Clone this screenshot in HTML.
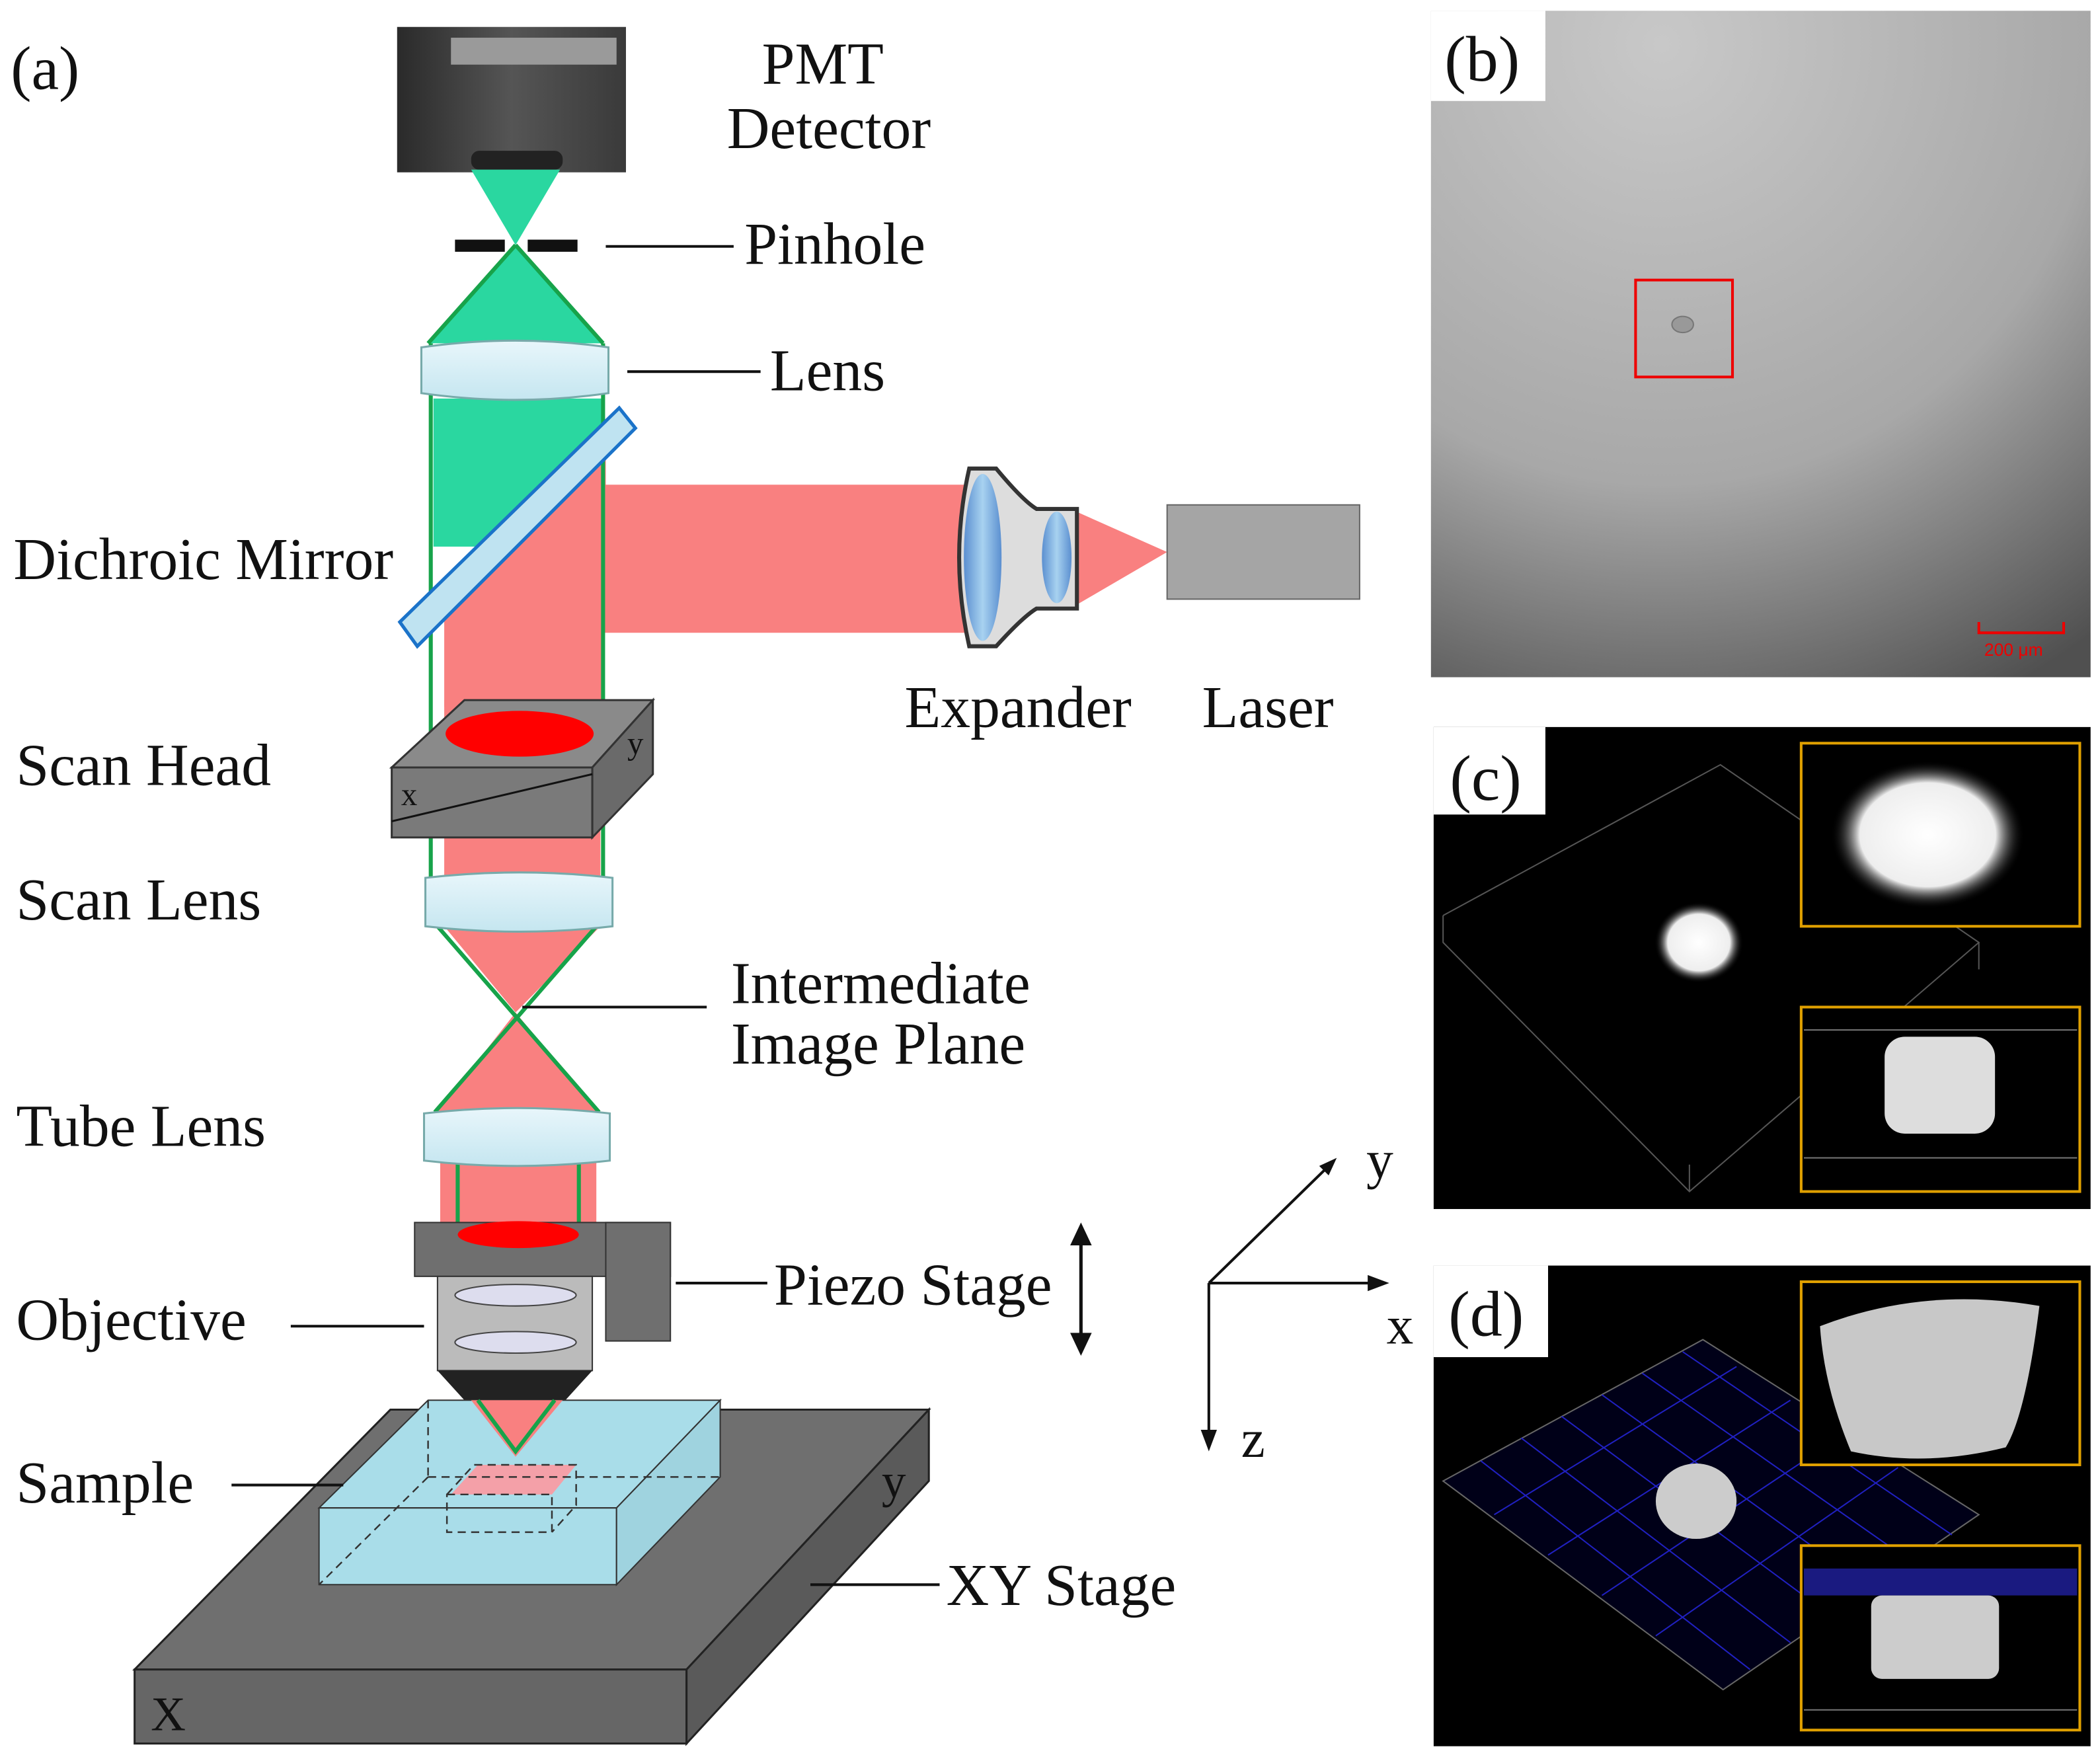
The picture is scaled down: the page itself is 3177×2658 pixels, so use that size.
<!DOCTYPE html>
<html><head><meta charset="utf-8"><style>
html,body{margin:0;padding:0;background:#fff}
svg{display:block}
text{font-family:"Liberation Serif",serif;fill:#111}
</style></head><body>
<svg width="3177" height="2658" viewBox="0 0 1560 1305" preserveAspectRatio="none" xmlns="http://www.w3.org/2000/svg">
<defs>
<linearGradient id="pmt" x1="0" y1="0" x2="1" y2="0"><stop offset="0" stop-color="#2a2a2a"/><stop offset="0.5" stop-color="#555"/><stop offset="1" stop-color="#3a3a3a"/></linearGradient>
<linearGradient id="lens" x1="0" y1="0" x2="0" y2="1"><stop offset="0" stop-color="#e8f6fb"/><stop offset="1" stop-color="#c5e6f0"/></linearGradient>
<radialGradient id="bg" cx="0.35" cy="0.05" r="1.1"><stop offset="0" stop-color="#c8c8c8"/><stop offset="0.6" stop-color="#a8a8a8"/><stop offset="1" stop-color="#505050"/></radialGradient>
<radialGradient id="blob"><stop offset="0" stop-color="#fff"/><stop offset="0.7" stop-color="#eee"/><stop offset="1" stop-color="#000" stop-opacity="0"/></radialGradient>
<linearGradient id="exp" x1="0" y1="0" x2="1" y2="0"><stop offset="0" stop-color="#5b8fd0"/><stop offset="0.5" stop-color="#a8d2f0"/><stop offset="1" stop-color="#5b8fd0"/></linearGradient>
</defs>

<text x="8" y="66" font-size="46">(a)</text>

<rect x="295" y="20" width="170" height="108" fill="url(#pmt)"/>
<rect x="335" y="28" width="123" height="20" fill="#9a9a9a"/>
<rect x="350" y="112" width="68" height="14" rx="6" fill="#222"/>
<polygon points="350,126 416,126 383,182" fill="#2ad7a0"/>
<polygon points="383,182 318,255 448,255" fill="#2ad7a0"/>
<polyline points="383,182 318,255" fill="none" stroke="#17a34a" stroke-width="3"/>
<polyline points="383,182 448,255" fill="none" stroke="#17a34a" stroke-width="3"/>
<rect x="338" y="178" width="37" height="9" fill="#111"/>
<rect x="392" y="178" width="37" height="9" fill="#111"/>
<rect x="322" y="296" width="126" height="110" fill="#2ad7a0"/>
<polygon points="330,430 450,315 450,360 722,360 722,470 448,470 448,525 330,525" fill="#f98080"/>
<rect x="330" y="520" width="116" height="140" fill="#f98080"/>
<polygon points="330,688 446,688 383,752" fill="#f98080"/>
<polygon points="383,752 325,826 445,826" fill="#f98080"/>
<rect x="327" y="862" width="116" height="50" fill="#f98080"/>
<polygon points="795,378 867,410 795,452" fill="#f98080"/>
<line x1="448" y1="255" x2="448" y2="660" stroke="#17a34a" stroke-width="3"/>
<line x1="320" y1="255" x2="320" y2="660" stroke="#17a34a" stroke-width="3"/>
<line x1="325" y1="688" x2="445" y2="826" stroke="#17a34a" stroke-width="3"/>
<line x1="443" y1="688" x2="323" y2="826" stroke="#17a34a" stroke-width="3"/>
<line x1="340" y1="862" x2="340" y2="915" stroke="#17a34a" stroke-width="3"/>
<line x1="430" y1="862" x2="430" y2="915" stroke="#17a34a" stroke-width="3"/>
<path d="M313,258 Q383,248 452,258 L452,292 Q383,302 313,292 Z" fill="url(#lens)" stroke="#7aa" stroke-width="1.5"/>
<polygon points="297,462 460,303 472,318 310,480" fill="#bfe3f1" stroke="#1b73c9" stroke-width="2.5"/>
<path d="M720,348 L740,348 Q760,372 770,378 L800,378 L800,452 L770,452 Q760,458 740,480 L720,480 Q705,414 720,348 Z" fill="#ddd" stroke="#333" stroke-width="3"/>
<ellipse cx="730" cy="414" rx="14" ry="62" fill="url(#exp)"/>
<ellipse cx="785" cy="414" rx="11" ry="34" fill="url(#exp)"/>
<rect x="867" y="375" width="143" height="70" fill="#a5a5a5" stroke="#666"/>
<polygon points="345,520 485,520 440,570 291,570" fill="#8a8a8a" stroke="#333" stroke-width="1.5"/>
<polygon points="291,570 440,570 440,622 291,622" fill="#7a7a7a" stroke="#333" stroke-width="1.5"/>
<polygon points="440,570 485,520 485,575 440,622" fill="#6a6a6a" stroke="#333" stroke-width="1.5"/>
<ellipse cx="386" cy="545" rx="55" ry="17" fill="#f00"/>
<line x1="291" y1="610" x2="440" y2="575" stroke="#111" stroke-width="1.5"/>
<text x="298" y="598" font-size="24">x</text>
<text x="466" y="560" font-size="24">y</text>
<path d="M316,652 Q386,644 455,652 L455,688 Q386,696 316,688 Z" fill="url(#lens)" stroke="#7aa" stroke-width="1.5"/>
<path d="M315,827 Q384,819 453,827 L453,862 Q384,870 315,862 Z" fill="url(#lens)" stroke="#7aa" stroke-width="1.5"/>
<rect x="308" y="908" width="190" height="40" fill="#6f6f6f" stroke="#333"/>
<rect x="450" y="908" width="48" height="88" fill="#6f6f6f" stroke="#333"/>
<ellipse cx="385" cy="917" rx="45" ry="10" fill="#f00"/>
<rect x="325" y="948" width="115" height="70" fill="#bbb" stroke="#333"/>
<ellipse cx="383" cy="962" rx="45" ry="8" fill="#dde" stroke="#444"/>
<ellipse cx="383" cy="997" rx="45" ry="8" fill="#dde" stroke="#444"/>
<polygon points="325,1018 440,1018 420,1040 345,1040" fill="#222"/>
<polygon points="290,1047 690,1047 510,1240 100,1240" fill="#6f6f6f" stroke="#222" stroke-width="1.5"/>
<polygon points="100,1240 510,1240 510,1295 100,1295" fill="#666" stroke="#222" stroke-width="1.5"/>
<polygon points="510,1240 690,1047 690,1100 510,1295" fill="#5a5a5a" stroke="#222" stroke-width="1.5"/>
<text x="112" y="1285" font-size="36">X</text>
<text x="655" y="1112" font-size="36">y</text>
<polygon points="318,1040 535,1040 458,1120 237,1120" fill="#a9dde9" stroke="#333"/>
<polygon points="237,1120 458,1120 458,1177 237,1177" fill="#a9dde9" stroke="#333"/>
<polygon points="458,1120 535,1040 535,1097 458,1177" fill="#9fd3df" stroke="#333"/>
<polygon points="350,1040 418,1040 383,1082" fill="#f98080"/>
<polyline points="355,1040 383,1078 412,1040" fill="none" stroke="#17a34a" stroke-width="3"/>
<polygon points="355,1088 428,1088 410,1110 335,1110" fill="#f4a0a8"/>
<g fill="none" stroke="#333" stroke-dasharray="6,4" stroke-width="1.2">
<line x1="318" y1="1040" x2="318" y2="1097"/><line x1="318" y1="1097" x2="535" y2="1097"/><line x1="318" y1="1097" x2="237" y2="1177"/>
<rect x="332" y="1110" width="78" height="28"/><polyline points="332,1110 352,1088 428,1088 428,1118 410,1138"/>
</g>
<text x="566" y="62" font-size="44">PMT</text>
<text x="540" y="110" font-size="44">Detector</text>
<line x1="450" y1="183" x2="545" y2="183" stroke="#111" stroke-width="2"/>
<text x="553" y="196" font-size="44">Pinhole</text>
<line x1="466" y1="276" x2="565" y2="276" stroke="#111" stroke-width="2"/>
<text x="572" y="290" font-size="44">Lens</text>
<text x="10" y="430" font-size="44">Dichroic Mirror</text>
<text x="672" y="540" font-size="44">Expander</text>
<text x="893" y="540" font-size="44">Laser</text>
<text x="12" y="583" font-size="44">Scan Head</text>
<text x="12" y="683" font-size="44">Scan Lens</text>
<line x1="388" y1="748" x2="525" y2="748" stroke="#111" stroke-width="2"/>
<text x="543" y="745" font-size="44">Intermediate</text>
<text x="543" y="790" font-size="44">Image Plane</text>
<text x="12" y="851" font-size="44">Tube Lens</text>
<line x1="502" y1="953" x2="570" y2="953" stroke="#111" stroke-width="2"/>
<text x="575" y="969" font-size="44">Piezo Stage</text>
<text x="12" y="995" font-size="44">Objective</text>
<line x1="216" y1="985" x2="315" y2="985" stroke="#111" stroke-width="2"/>
<text x="12" y="1116" font-size="44">Sample</text>
<line x1="172" y1="1103" x2="255" y2="1103" stroke="#111" stroke-width="2"/>
<line x1="602" y1="1177" x2="698" y2="1177" stroke="#111" stroke-width="2"/>
<text x="703" y="1192" font-size="44">XY Stage</text>
<line x1="803" y1="915" x2="803" y2="1000" stroke="#111" stroke-width="2.5"/>
<polygon points="795,925 803,908 811,925" fill="#111"/><polygon points="795,990 803,1007 811,990" fill="#111"/>
<g stroke="#111" stroke-width="2"><line x1="898" y1="953" x2="985" y2="868"/><line x1="898" y1="953" x2="1020" y2="953"/><line x1="898" y1="953" x2="898" y2="1065"/></g>
<polygon points="993,860 980,866 987,873" fill="#111"/>
<polygon points="1032,953 1016,947 1016,959" fill="#111"/>
<polygon points="898,1078 892,1062 904,1062" fill="#111"/>
<text x="1015" y="875" font-size="40">y</text>
<text x="1030" y="998" font-size="40">x</text>
<text x="922" y="1082" font-size="40">z</text>

<rect x="1063" y="8" width="490" height="495" fill="url(#bg)"/>
<rect x="1063" y="8" width="85" height="67" fill="#fff"/>
<text x="1073" y="60" font-size="48">(b)</text>
<rect x="1215" y="208" width="72" height="72" fill="none" stroke="#e00" stroke-width="2"/>
<ellipse cx="1250" cy="241" rx="8" ry="6" fill="#999" stroke="#777"/>
<polyline points="1470,462 1470,470 1533,470 1533,462" fill="none" stroke="#e00" stroke-width="2"/>
<text x="1474" y="487" font-size="13" style="fill:#e00;font-family:'Liberation Sans',sans-serif">200 μm</text>

<rect x="1065" y="540" width="488" height="358" fill="#000"/>
<rect x="1065" y="540" width="83" height="65" fill="#fff"/>
<text x="1077" y="594" font-size="48">(c)</text>
<g fill="none" stroke="#555" stroke-width="1"><polyline points="1072,680 1278,568 1470,700 1255,885 1072,700 1072,680"/><line x1="1255" y1="885" x2="1255" y2="865"/><line x1="1470" y1="700" x2="1470" y2="720"/></g>
<ellipse cx="1262" cy="700" rx="33" ry="30" fill="url(#blob)"/>
<rect x="1338" y="552" width="207" height="136" fill="#000" stroke="#e0a000" stroke-width="2"/>
<ellipse cx="1432" cy="620" rx="72" ry="55" fill="url(#blob)"/>
<rect x="1338" y="748" width="207" height="137" fill="#000" stroke="#e0a000" stroke-width="2"/>
<line x1="1340" y1="765" x2="1543" y2="765" stroke="#777"/><line x1="1340" y1="860" x2="1543" y2="860" stroke="#777"/>
<rect x="1400" y="770" width="82" height="72" rx="15" fill="#ddd"/>

<rect x="1065" y="940" width="488" height="357" fill="#000"/>
<rect x="1065" y="940" width="85" height="68" fill="#fff"/>
<text x="1076" y="992" font-size="48">(d)</text>
<polygon points="1072,1100 1265,995 1470,1125 1280,1255" fill="#000018" stroke="#666"/>
<g stroke="#2020c0" stroke-width="1" fill="none">
<line x1="1100" y1="1085" x2="1300" y2="1240"/><line x1="1130" y1="1068" x2="1330" y2="1220"/><line x1="1160" y1="1052" x2="1360" y2="1200"/><line x1="1190" y1="1036" x2="1390" y2="1180"/><line x1="1220" y1="1020" x2="1420" y2="1160"/><line x1="1250" y1="1004" x2="1450" y2="1140"/>
<line x1="1110" y1="1125" x2="1290" y2="1015"/><line x1="1150" y1="1155" x2="1330" y2="1040"/><line x1="1190" y1="1185" x2="1370" y2="1065"/><line x1="1230" y1="1215" x2="1410" y2="1090"/>
</g>
<ellipse cx="1260" cy="1115" rx="30" ry="28" fill="#ccc"/>
<rect x="1338" y="952" width="207" height="136" fill="#000" stroke="#e0a000" stroke-width="2"/>
<path d="M1352,985 Q1430,955 1515,970 Q1505,1050 1490,1075 Q1430,1090 1375,1078 Q1355,1030 1352,985 Z" fill="#c8c8c8"/>
<rect x="1338" y="1148" width="207" height="137" fill="#000" stroke="#e0a000" stroke-width="2"/>
<rect x="1340" y="1165" width="203" height="20" fill="#1a1a80"/>
<rect x="1390" y="1185" width="95" height="62" rx="8" fill="#ccc"/>
<line x1="1340" y1="1270" x2="1543" y2="1270" stroke="#777"/>
</svg>
</body></html>
